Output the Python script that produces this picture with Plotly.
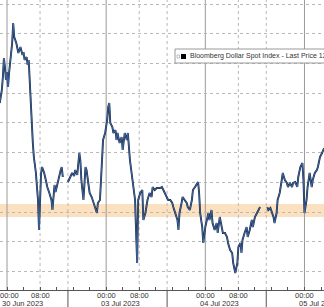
import plotly.graph_objects as go

# 15-minute bar index since 30 Jun 2023 00:00 (weekend compressed); 96 bars per day
bars_1 = [-7, -5, -4, -3, -2, -1, 0, 1, 2, 3, 4, 5, 6, 7, 9, 10, 11, 13, 15, 16, 17, 19, 20, 21,
          23, 24, 25, 26, 28, 29, 30, 31, 32, 33, 34, 36, 38, 39, 41, 43, 44, 45, 46, 47, 48, 50,
          52, 53, 54]
price_1 = [1231.09, 1231.22, 1231.35, 1231.54, 1231.45, 1231.32, 1231.40, 1231.25, 1231.39,
           1231.49, 1231.55, 1231.69, 1231.89, 1231.75, 1231.69, 1231.62, 1231.59, 1231.65,
           1231.57, 1231.60, 1231.52, 1231.55, 1231.47, 1231.52, 1231.12, 1230.79, 1230.69,
           1230.55, 1230.39, 1230.25, 1230.12, 1229.82, 1230.09, 1230.39, 1230.45, 1230.39,
           1230.30, 1230.25, 1230.19, 1230.12, 1230.02, 1230.19, 1230.27, 1230.20, 1230.25,
           1230.32, 1230.42, 1230.45, 1230.35]

bars_2 = [59, 61, 63, 65, 66, 68, 69, 70, 71, 72, 74, 76, 77, 78, 80, 82, 83, 85, 87, 88, 90,
          91, 92, 93, 95, 97, 98, 99, 100, 102, 103, 105, 106, 107, 109, 111, 112, 114, 116, 117,
          119, 121, 122, 124, 125, 126, 127, 129, 131, 132, 134, 135, 136, 138, 140, 141, 143,
          145, 148, 150, 155, 156, 158, 160, 161, 163, 165, 166, 167, 169, 170, 172, 174, 175,
          177, 179, 180, 182, 184, 185, 186, 187, 189, 190, 192, 194, 195, 196, 198, 199, 201,
          203, 204, 206, 208, 209, 211, 213, 214, 216, 218, 219, 221, 223, 224, 226, 227, 228,
          230, 232, 233, 235, 237, 238, 240, 242, 243, 245]
price_2 = [1230.30, 1230.34, 1230.39, 1230.36, 1230.42, 1230.37, 1230.47, 1230.59, 1230.52,
           1230.32, 1230.12, 1230.45, 1230.42, 1230.32, 1230.19, 1230.15, 1230.12, 1230.05,
           1229.99, 1230.09, 1230.12, 1230.32, 1230.62, 1230.72, 1230.79, 1230.92, 1231.05,
           1231.09, 1230.89, 1230.85, 1230.79, 1230.82, 1230.72, 1230.79, 1230.69, 1230.75,
           1230.62, 1230.79, 1230.72, 1230.79, 1230.52, 1230.35, 1230.25, 1230.12, 1229.79,
           1229.49, 1230.12, 1230.19, 1230.22, 1229.92, 1229.99, 1230.05, 1230.12, 1230.19,
           1230.15, 1230.25, 1230.22, 1230.24, 1230.24, 1230.25, 1230.15, 1230.12, 1230.12,
           1230.09, 1230.05, 1229.99, 1229.92, 1229.82, 1229.99, 1230.09, 1230.15, 1230.12,
           1230.09, 1230.05, 1230.02, 1230.12, 1230.22, 1230.25, 1230.29, 1230.30, 1230.19,
           1229.99, 1229.85, 1229.69, 1229.85, 1229.95, 1229.99, 1229.92, 1230.02, 1229.89,
           1229.82, 1229.89, 1229.79, 1229.95, 1229.85, 1229.79, 1229.79, 1229.75, 1229.69,
           1229.62, 1229.59, 1229.49, 1229.39, 1229.49, 1229.65, 1229.69, 1229.59, 1229.72,
           1229.79, 1229.85, 1229.75, 1229.82, 1229.92, 1229.85, 1229.95, 1229.99, 1230.02,
           1230.05]

bars_3 = [252, 253, 255, 257, 258, 259, 261, 262, 264, 266, 267, 269, 271, 272, 274, 276, 277,
          279, 281, 282, 284, 286, 287, 288, 290, 291, 293, 295, 296, 298, 300, 301, 303, 305,
          306, 307]
price_3 = [1230.05, 1230.02, 1230.04, 1229.99, 1229.95, 1229.89, 1229.99, 1230.12, 1230.19,
           1230.32, 1230.39, 1230.32, 1230.29, 1230.25, 1230.29, 1230.25, 1230.29, 1230.30,
           1230.25, 1230.35, 1230.45, 1230.49, 1230.32, 1229.99, 1230.12, 1230.25, 1230.39,
           1230.25, 1230.32, 1230.39, 1230.42, 1230.45, 1230.55, 1230.59, 1230.62, 1230.64]

day_starts = [0, 96, 192, 288]
day_labels = ["30 Jun 2023", "03 Jul 2023", "04 Jul 2023", "05 Jul 2023"]
eight_am = [32, 128, 224]
session_breaks = [59, 155, 251]
time_label_pos = [0, 32, 96, 128, 192, 224, 288]
time_labels = ["00:00", "08:00", "00:00", "08:00", "00:00", "08:00", "00:00"]
band_low, band_high = 1229.95, 1230.08
legend_text = "Bloomberg Dollar Spot Index - Last Price 1230.64"

x = bars_1 + [None] + bars_2 + [None] + bars_3
y = price_1 + [None] + price_2 + [None] + price_3

fig = go.Figure()
fig.add_trace(go.Scatter(x=x, y=y, mode="lines", line=dict(color="#15243f", width=1.9),
                         connectgaps=False, hoverinfo="skip", showlegend=False))
fig.add_trace(go.Scatter(x=x, y=y, mode="lines", line=dict(color="#4f80c4", width=0.7),
                         connectgaps=False, hoverinfo="skip", showlegend=False))

shapes = []
shapes.append(dict(type="rect", xref="paper", yref="y", x0=0, x1=1, y0=band_low, y1=band_high,
                   fillcolor="rgba(250,200,140,0.55)", line=dict(width=0), layer="below"))
for d in day_starts:
    shapes.append(dict(type="line", xref="x", yref="paper", x0=d, x1=d, y0=0, y1=1,
                       line=dict(color="#9a9a9a", width=1), layer="below"))
for d in eight_am + session_breaks:
    shapes.append(dict(type="line", xref="x", yref="paper", x0=d, x1=d, y0=0, y1=1,
                       line=dict(color="#b8b8b8", width=1, dash="dot"), layer="below"))
for d in session_breaks:
    shapes.append(dict(type="line", xref="x", yref="paper", x0=d, x1=d, y0=-0.07, y1=0,
                       line=dict(color="#555555", width=1)))
# legend box
shapes.append(dict(type="rect", xref="paper", yref="paper", x0=175 / 324, x1=1.02,
                   y0=1 - 63 / 290, y1=1 - 49 / 290, fillcolor="white",
                   line=dict(color="#9a9a9a", width=1)))
shapes.append(dict(type="rect", xref="paper", yref="paper", x0=181 / 324, x1=186 / 324,
                   y0=1 - 59 / 290, y1=1 - 54 / 290, fillcolor="black", line=dict(width=0)))
shapes.append(dict(type="rect", xref="paper", yref="paper", x0=177 / 324, x1=179.5 / 324,
                   y0=1 - 58 / 290, y1=1 - 55 / 290, fillcolor="white",
                   line=dict(color="#999999", width=0.6)))

lab_font = dict(size=7.5, color="#333333", family="Liberation Sans")
annotations = []
for i, (t, lab) in enumerate(zip(time_label_pos, time_labels)):
    annotations.append(dict(x=t, y=-5.5 / 290, xref="x", yref="paper", text=lab,
                            showarrow=False, xanchor="center", yanchor="middle",
                            xshift=2 if i == 0 else 0, font=lab_font))
for d, lab in zip(day_starts, day_labels):
    annotations.append(dict(x=d, y=-13.5 / 290, xref="x", yref="paper", text=lab,
                            showarrow=False, xanchor="left", yanchor="middle", xshift=-7,
                            font=lab_font))
annotations.append(dict(x=188 / 324, y=1 - 56 / 290, xref="paper", yref="paper",
                        text=legend_text, showarrow=False, xanchor="left", yanchor="middle",
                        font=dict(size=7, color="#333333", family="Liberation Sans")))

tickvals = list(range(0, 308, 16))

fig.update_layout(
    width=324, height=307,
    margin=dict(l=0, r=0, t=0, b=17),
    paper_bgcolor="white", plot_bgcolor="white",
    shapes=shapes, annotations=annotations,
    xaxis=dict(range=[-6.78, 306.9], showgrid=False, zeroline=False,
               tickmode="array", tickvals=tickvals, showticklabels=False,
               ticks="inside", ticklen=3, tickcolor="#555555",
               showline=True, linecolor="#555555", linewidth=1),
    yaxis=dict(range=[1229.22, 1232.12], tick0=1230.0, dtick=0.297, showticklabels=False,
               showgrid=True, gridcolor="#b8b8b8", griddash="dot", gridwidth=1,
               zeroline=False, showline=False),
)

fig.write_html("out.html")
